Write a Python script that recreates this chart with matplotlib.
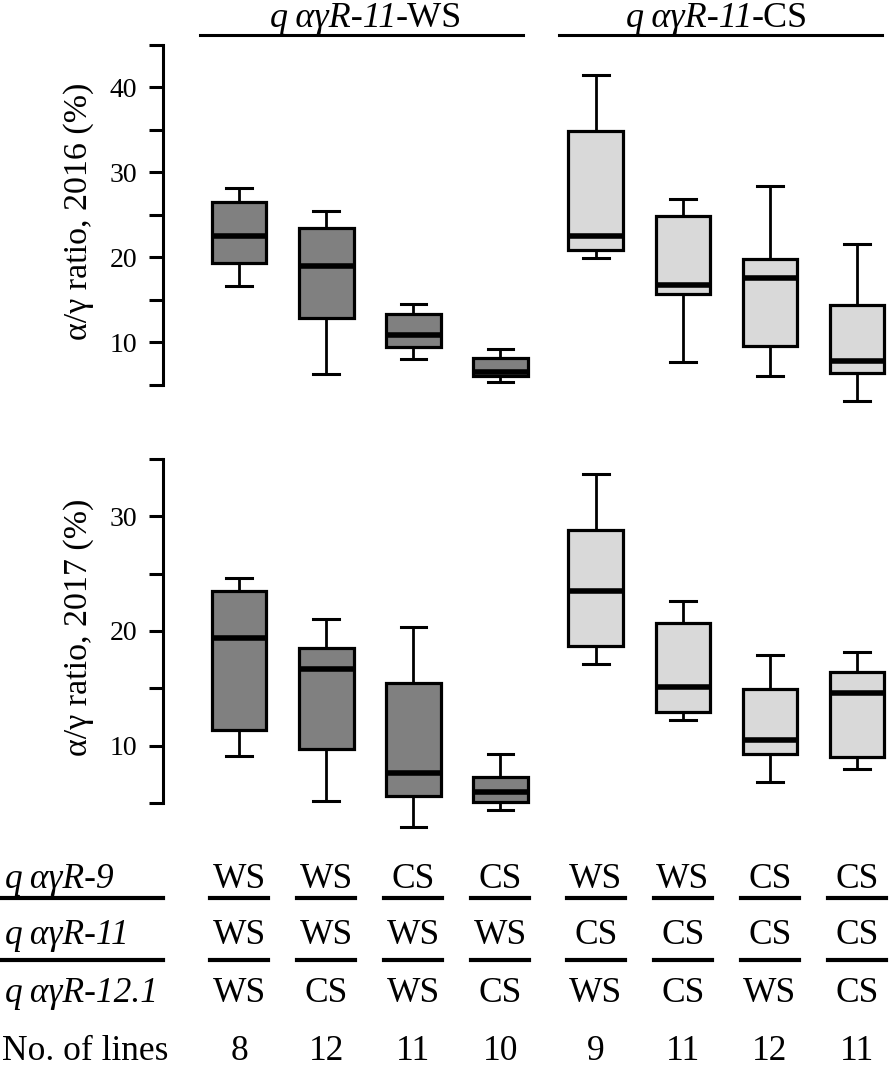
import matplotlib
matplotlib.use("Agg")
import matplotlib.pyplot as plt
import matplotlib.transforms as mtransforms
from matplotlib.lines import Line2D

plt.rcParams['font.family'] = ['Liberation Serif', 'DejaVu Serif']

# box statistics (whisker low, Q1, median, Q3, whisker high)
lo_2016 = [16.6, 6.3, 8.0, 5.3, 19.9, 7.7, 6.0, 3.1]
q1_2016 = [19.3, 12.8, 9.5, 6.0, 20.9, 15.7, 9.6, 6.4]
med_2016 = [22.5, 19.0, 10.9, 6.5, 22.5, 16.7, 17.6, 7.8]
q3_2016 = [26.5, 23.5, 13.3, 8.1, 34.9, 24.9, 19.8, 14.4]
hi_2016 = [28.2, 25.5, 14.5, 9.2, 41.4, 26.8, 28.4, 21.6]

lo_2017 = [9.1, 5.2, 2.9, 4.4, 17.1, 12.2, 6.8, 8.0]
q1_2017 = [11.4, 9.7, 5.6, 5.1, 18.7, 12.9, 9.3, 9.0]
med_2017 = [19.4, 16.7, 7.6, 6.0, 23.5, 15.1, 10.5, 14.6]
q3_2017 = [23.5, 18.5, 15.5, 7.3, 28.8, 20.7, 14.9, 16.4]
hi_2017 = [24.6, 21.0, 20.3, 9.3, 33.7, 22.6, 17.9, 18.2]

groups = ["WS", "WS", "WS", "WS", "CS", "CS", "CS", "CS"]
geno_r9 = ["WS", "WS", "CS", "CS", "WS", "WS", "CS", "CS"]
geno_r11 = ["WS", "WS", "WS", "WS", "CS", "CS", "CS", "CS"]
geno_r121 = ["WS", "CS", "WS", "CS", "WS", "CS", "WS", "CS"]
n_lines = [8, 12, 11, 10, 9, 11, 12, 11]
row_names = ["q\u2009αγR-9", "q\u2009αγR-11", "q\u2009αγR-12.1"]

positions = [1, 2, 3, 4, 5.1, 6.1, 7.1, 8.1]
W, H = 894, 1069


def make_stats(lo, q1, med, q3, hi):
    return [dict(whislo=a, q1=b, med=c, q3=d, whishi=e, fliers=[])
            for a, b, c, d, e in zip(lo, q1, med, q3, hi)]


def draw_panel(ax, stats, ymax, label):
    res = ax.bxp(stats, positions=positions, widths=0.63, patch_artist=True,
                 showfliers=False, manage_ticks=False, capwidths=0.29,
                 boxprops=dict(linewidth=2.3, edgecolor='black'),
                 medianprops=dict(color='black', linewidth=4),
                 whiskerprops=dict(color='black', linewidth=2.0),
                 capprops=dict(color='black', linewidth=2.2))
    for box, g in zip(res['boxes'], groups):
        box.set_facecolor('#808080' if g == "WS" else '#d9d9d9')
    for key in ['boxes', 'medians', 'whiskers', 'caps']:
        for art in res[key]:
            art.set_clip_on(False)
    ax.set_xlim(0.126, 8.525)
    ax.set_ylim(5, ymax)
    ticks = list(range(5, ymax + 1, 5))
    ax.set_yticks(ticks)
    ax.set_yticklabels([str(t) if t % 10 == 0 else "" for t in ticks])
    ax.tick_params(axis='y', length=10, width=2.2, pad=8.5, labelsize=20)
    ax.spines['left'].set_linewidth(2.2)
    for s in ['top', 'right', 'bottom']:
        ax.spines[s].set_visible(False)
    ax.set_xticks([])
    ax.set_ylabel(label, fontsize=24.5)
    ax.yaxis.set_label_coords(-0.094, 0.51)


fig = plt.figure(figsize=(W / 100, H / 100), dpi=100)
ax1 = fig.add_axes([163 / W, 1 - 384.8 / H, (W - 163) / W, 340 / H])
ax2 = fig.add_axes([163 / W, 1 - 803.1 / H, (W - 163) / W, 344.4 / H])

draw_panel(ax1, make_stats(lo_2016, q1_2016, med_2016, q3_2016, hi_2016), 45,
           "α/γ ratio, 2016 (%)")
draw_panel(ax2, make_stats(lo_2017, q1_2017, med_2017, q3_2017, hi_2017), 35,
           "α/γ ratio, 2017 (%)")

# group headers
for split, x0, x1, tag in [(396, 200, 523, "-WS"), (752, 559, 882, "-CS")]:
    fig.text(split / W, 1 - 27 / H, "q\u2009αγR-11", style='italic',
             fontsize=26, ha='right', va='baseline')
    fig.text(split / W, 1 - 27 / H, tag, fontsize=26, ha='left', va='baseline')
    fig.add_artist(Line2D([x0 / W, x1 / W], [1 - 35 / H, 1 - 35 / H],
                          color='black', linewidth=2.2))

# genotype table under the plots
blend = mtransforms.blended_transform_factory(ax2.transData, fig.transFigure)
baselines = [888, 944, 1002]
for name, row, base in zip(row_names, [geno_r9, geno_r11, geno_r121], baselines):
    fig.text(5 / W, 1 - base / H, name, style='italic', fontsize=25.5,
             ha='left', va='baseline')
    for p, v in zip(positions, row):
        ax2.text(p, 1 - base / H, v, transform=blend, fontsize=25.5,
                 ha='center', va='baseline')
for uy in [898, 960]:
    fig.add_artist(Line2D([0, 163 / W], [1 - uy / H, 1 - uy / H],
                          color='black', linewidth=3))
    for p in positions:
        ax2.add_line(Line2D([p - 0.33, p + 0.33], [1 - uy / H, 1 - uy / H],
                            transform=blend, color='black', linewidth=3,
                            clip_on=False))

fig.text(2 / W, 1 - 1060 / H, "No. of lines", fontsize=25.5, ha='left',
         va='baseline')
for p, n in zip(positions, n_lines):
    ax2.text(p, 1 - 1060 / H, str(n), transform=blend, fontsize=25.5,
             ha='center', va='baseline')

fig.savefig("out.png", dpi=100)
